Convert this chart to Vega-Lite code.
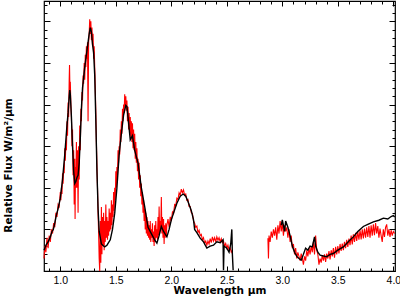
{
  "$schema": "https://vega.github.io/schema/vega-lite/v6.json",
  "width": 351,
  "height": 270,
  "autosize": "none",
  "padding": {"left": 44, "top": 1, "right": 5, "bottom": 27},
  "background": "white",
  "config": {
    "view": {"stroke": "black", "strokeWidth": 1.2},
    "axis": {"domain": false, "grid": false, "tickColor": "black", "labelColor": "black", "titleColor": "black", "labelFont": "Liberation Sans", "titleFont": "DejaVu Sans", "labelFontSize": 10.5, "titleFontSize": 10.5, "titleFontWeight": "bold", "tickWidth": 1}
  },
  "datasets": {
    "red": [
      {"x": 0.853, "y": 0.30, "seg": "r1"},
      {"x": 0.86, "y": 0.60, "seg": "r1"},
      {"x": 0.87, "y": 0.45, "seg": "r1"},
      {"x": 0.88, "y": 0.80, "seg": "r1"},
      {"x": 0.89, "y": 0.55, "seg": "r1"},
      {"x": 0.90, "y": 0.85, "seg": "r1"},
      {"x": 0.91, "y": 0.70, "seg": "r1"},
      {"x": 0.92, "y": 1.00, "seg": "r1"},
      {"x": 0.93, "y": 0.90, "seg": "r1"},
      {"x": 0.94, "y": 1.15, "seg": "r1"},
      {"x": 0.95, "y": 1.05, "seg": "r1"},
      {"x": 0.96, "y": 1.40, "seg": "r1"},
      {"x": 0.97, "y": 1.30, "seg": "r1"},
      {"x": 0.98, "y": 1.60, "seg": "r1"},
      {"x": 0.99, "y": 1.55, "seg": "r1"},
      {"x": 1.000, "y": 1.90, "seg": "r1"},
      {"x": 1.005, "y": 1.70, "seg": "r1"},
      {"x": 1.010, "y": 2.00, "seg": "r1"},
      {"x": 1.015, "y": 1.85, "seg": "r1"},
      {"x": 1.020, "y": 2.35, "seg": "r1"},
      {"x": 1.025, "y": 2.10, "seg": "r1"},
      {"x": 1.030, "y": 2.50, "seg": "r1"},
      {"x": 1.035, "y": 2.35, "seg": "r1"},
      {"x": 1.040, "y": 2.95, "seg": "r1"},
      {"x": 1.045, "y": 2.65, "seg": "r1"},
      {"x": 1.050, "y": 3.10, "seg": "r1"},
      {"x": 1.055, "y": 2.90, "seg": "r1"},
      {"x": 1.060, "y": 3.60, "seg": "r1"},
      {"x": 1.065, "y": 3.25, "seg": "r1"},
      {"x": 1.070, "y": 4.05, "seg": "r1"},
      {"x": 1.075, "y": 3.70, "seg": "r1"},
      {"x": 1.080, "y": 4.60, "seg": "r1"},
      {"x": 1.083, "y": 4.95, "seg": "r1"},
      {"x": 1.087, "y": 4.30, "seg": "r1"},
      {"x": 1.090, "y": 4.55, "seg": "r1"},
      {"x": 1.095, "y": 4.00, "seg": "r1"},
      {"x": 1.100, "y": 3.70, "seg": "r1"},
      {"x": 1.105, "y": 3.00, "seg": "r1"},
      {"x": 1.110, "y": 3.40, "seg": "r1"},
      {"x": 1.115, "y": 2.30, "seg": "r1"},
      {"x": 1.120, "y": 2.90, "seg": "r1"},
      {"x": 1.125, "y": 1.60, "seg": "r1"},
      {"x": 1.130, "y": 2.70, "seg": "r1"},
      {"x": 1.133, "y": 1.25, "seg": "r1"},
      {"x": 1.137, "y": 2.50, "seg": "r1"},
      {"x": 1.140, "y": 2.00, "seg": "r1"},
      {"x": 1.145, "y": 3.10, "seg": "r1"},
      {"x": 1.150, "y": 2.00, "seg": "r1"},
      {"x": 1.155, "y": 2.90, "seg": "r1"},
      {"x": 1.160, "y": 1.40, "seg": "r1"},
      {"x": 1.165, "y": 3.00, "seg": "r1"},
      {"x": 1.170, "y": 2.20, "seg": "r1"},
      {"x": 1.175, "y": 3.50, "seg": "r1"},
      {"x": 1.180, "y": 2.90, "seg": "r1"},
      {"x": 1.185, "y": 3.90, "seg": "r1"},
      {"x": 1.190, "y": 3.60, "seg": "r1"},
      {"x": 1.195, "y": 4.30, "seg": "r1"},
      {"x": 1.200, "y": 4.10, "seg": "r1"},
      {"x": 1.205, "y": 4.70, "seg": "r1"},
      {"x": 1.210, "y": 4.50, "seg": "r1"},
      {"x": 1.215, "y": 5.00, "seg": "r1"},
      {"x": 1.220, "y": 4.60, "seg": "r1"},
      {"x": 1.225, "y": 5.20, "seg": "r1"},
      {"x": 1.230, "y": 4.90, "seg": "r1"},
      {"x": 1.235, "y": 5.40, "seg": "r1"},
      {"x": 1.240, "y": 5.10, "seg": "r1"},
      {"x": 1.245, "y": 5.50, "seg": "r1"},
      {"x": 1.250, "y": 3.60, "seg": "r1"},
      {"x": 1.255, "y": 5.50, "seg": "r1"},
      {"x": 1.260, "y": 5.70, "seg": "r1"},
      {"x": 1.265, "y": 6.05, "seg": "r1"},
      {"x": 1.270, "y": 5.70, "seg": "r1"},
      {"x": 1.275, "y": 6.00, "seg": "r1"},
      {"x": 1.280, "y": 5.55, "seg": "r1"},
      {"x": 1.285, "y": 5.85, "seg": "r1"},
      {"x": 1.290, "y": 5.40, "seg": "r1"},
      {"x": 1.295, "y": 5.70, "seg": "r1"},
      {"x": 1.300, "y": 5.10, "seg": "r1"},
      {"x": 1.305, "y": 5.40, "seg": "r1"},
      {"x": 1.310, "y": 4.90, "seg": "r1"},
      {"x": 1.315, "y": 4.40, "seg": "r1"},
      {"x": 1.320, "y": 3.80, "seg": "r1"},
      {"x": 1.325, "y": 3.10, "seg": "r1"},
      {"x": 1.330, "y": 2.50, "seg": "r1"},
      {"x": 1.335, "y": 2.00, "seg": "r1"},
      {"x": 1.340, "y": 1.40, "seg": "r1"},
      {"x": 1.345, "y": 0.90, "seg": "r1"},
      {"x": 1.350, "y": 0.30, "seg": "r1"},
      {"x": 1.355, "y": 0.00, "seg": "r1"},
      {"x": 1.36, "y": 1.20, "seg": "r1"},
      {"x": 1.365, "y": 0.20, "seg": "r1"},
      {"x": 1.37, "y": 1.54, "seg": "r1"},
      {"x": 1.375, "y": 0.40, "seg": "r1"},
      {"x": 1.38, "y": 1.30, "seg": "r1"},
      {"x": 1.385, "y": 0.60, "seg": "r1"},
      {"x": 1.39, "y": 1.40, "seg": "r1"},
      {"x": 1.395, "y": 0.50, "seg": "r1"},
      {"x": 1.40, "y": 1.20, "seg": "r1"},
      {"x": 1.405, "y": 0.70, "seg": "r1"},
      {"x": 1.41, "y": 1.60, "seg": "r1"},
      {"x": 1.415, "y": 0.80, "seg": "r1"},
      {"x": 1.42, "y": 1.30, "seg": "r1"},
      {"x": 1.425, "y": 0.75, "seg": "r1"},
      {"x": 1.43, "y": 1.20, "seg": "r1"},
      {"x": 1.435, "y": 0.85, "seg": "r1"},
      {"x": 1.44, "y": 1.50, "seg": "r1"},
      {"x": 1.445, "y": 0.95, "seg": "r1"},
      {"x": 1.45, "y": 1.40, "seg": "r1"},
      {"x": 1.455, "y": 1.00, "seg": "r1"},
      {"x": 1.46, "y": 1.70, "seg": "r1"},
      {"x": 1.465, "y": 1.10, "seg": "r1"},
      {"x": 1.47, "y": 1.60, "seg": "r1"},
      {"x": 1.475, "y": 1.30, "seg": "r1"},
      {"x": 1.48, "y": 1.90, "seg": "r1"},
      {"x": 1.485, "y": 1.45, "seg": "r1"},
      {"x": 1.49, "y": 2.00, "seg": "r1"},
      {"x": 1.495, "y": 1.70, "seg": "r1"},
      {"x": 1.500, "y": 2.40, "seg": "r1"},
      {"x": 1.505, "y": 2.00, "seg": "r1"},
      {"x": 1.510, "y": 2.50, "seg": "r1"},
      {"x": 1.515, "y": 2.30, "seg": "r1"},
      {"x": 1.520, "y": 2.90, "seg": "r1"},
      {"x": 1.525, "y": 2.60, "seg": "r1"},
      {"x": 1.530, "y": 3.00, "seg": "r1"},
      {"x": 1.535, "y": 2.80, "seg": "r1"},
      {"x": 1.540, "y": 3.40, "seg": "r1"},
      {"x": 1.545, "y": 3.10, "seg": "r1"},
      {"x": 1.550, "y": 3.60, "seg": "r1"},
      {"x": 1.555, "y": 3.30, "seg": "r1"},
      {"x": 1.560, "y": 3.90, "seg": "r1"},
      {"x": 1.565, "y": 3.60, "seg": "r1"},
      {"x": 1.570, "y": 4.00, "seg": "r1"},
      {"x": 1.575, "y": 3.80, "seg": "r1"},
      {"x": 1.580, "y": 4.25, "seg": "r1"},
      {"x": 1.585, "y": 3.95, "seg": "r1"},
      {"x": 1.590, "y": 4.20, "seg": "r1"},
      {"x": 1.595, "y": 3.85, "seg": "r1"},
      {"x": 1.600, "y": 4.10, "seg": "r1"},
      {"x": 1.605, "y": 3.60, "seg": "r1"},
      {"x": 1.610, "y": 3.95, "seg": "r1"},
      {"x": 1.615, "y": 3.40, "seg": "r1"},
      {"x": 1.620, "y": 3.80, "seg": "r1"},
      {"x": 1.625, "y": 3.30, "seg": "r1"},
      {"x": 1.630, "y": 3.70, "seg": "r1"},
      {"x": 1.635, "y": 3.20, "seg": "r1"},
      {"x": 1.640, "y": 3.60, "seg": "r1"},
      {"x": 1.645, "y": 3.10, "seg": "r1"},
      {"x": 1.650, "y": 3.55, "seg": "r1"},
      {"x": 1.655, "y": 2.95, "seg": "r1"},
      {"x": 1.660, "y": 3.40, "seg": "r1"},
      {"x": 1.665, "y": 2.90, "seg": "r1"},
      {"x": 1.670, "y": 3.30, "seg": "r1"},
      {"x": 1.675, "y": 2.70, "seg": "r1"},
      {"x": 1.680, "y": 3.10, "seg": "r1"},
      {"x": 1.685, "y": 2.60, "seg": "r1"},
      {"x": 1.690, "y": 2.95, "seg": "r1"},
      {"x": 1.695, "y": 2.40, "seg": "r1"},
      {"x": 1.700, "y": 2.70, "seg": "r1"},
      {"x": 1.705, "y": 2.20, "seg": "r1"},
      {"x": 1.710, "y": 2.60, "seg": "r1"},
      {"x": 1.715, "y": 2.00, "seg": "r1"},
      {"x": 1.720, "y": 2.30, "seg": "r1"},
      {"x": 1.725, "y": 1.80, "seg": "r1"},
      {"x": 1.730, "y": 2.10, "seg": "r1"},
      {"x": 1.735, "y": 1.60, "seg": "r1"},
      {"x": 1.740, "y": 1.90, "seg": "r1"},
      {"x": 1.745, "y": 1.40, "seg": "r1"},
      {"x": 1.750, "y": 1.70, "seg": "r1"},
      {"x": 1.755, "y": 1.20, "seg": "r1"},
      {"x": 1.760, "y": 1.50, "seg": "r1"},
      {"x": 1.765, "y": 1.00, "seg": "r1"},
      {"x": 1.770, "y": 1.40, "seg": "r1"},
      {"x": 1.775, "y": 0.90, "seg": "r1"},
      {"x": 1.780, "y": 1.30, "seg": "r1"},
      {"x": 1.785, "y": 0.85, "seg": "r1"},
      {"x": 1.790, "y": 1.20, "seg": "r1"},
      {"x": 1.795, "y": 0.80, "seg": "r1"},
      {"x": 1.800, "y": 1.10, "seg": "r1"},
      {"x": 1.805, "y": 0.75, "seg": "r1"},
      {"x": 1.810, "y": 1.20, "seg": "r1"},
      {"x": 1.815, "y": 0.70, "seg": "r1"},
      {"x": 1.820, "y": 1.00, "seg": "r1"},
      {"x": 1.825, "y": 0.80, "seg": "r1"},
      {"x": 1.830, "y": 1.15, "seg": "r1"},
      {"x": 1.835, "y": 0.70, "seg": "r1"},
      {"x": 1.840, "y": 0.95, "seg": "r1"},
      {"x": 1.845, "y": 0.60, "seg": "r1"},
      {"x": 1.850, "y": 1.10, "seg": "r1"},
      {"x": 1.855, "y": 0.70, "seg": "r1"},
      {"x": 1.860, "y": 1.20, "seg": "r1"},
      {"x": 1.865, "y": 0.80, "seg": "r1"},
      {"x": 1.870, "y": 1.00, "seg": "r1"},
      {"x": 1.875, "y": 0.75, "seg": "r1"},
      {"x": 1.880, "y": 1.30, "seg": "r1"},
      {"x": 1.885, "y": 0.85, "seg": "r1"},
      {"x": 1.890, "y": 1.55, "seg": "r1"},
      {"x": 1.895, "y": 0.90, "seg": "r1"},
      {"x": 1.900, "y": 1.20, "seg": "r1"},
      {"x": 1.905, "y": 1.00, "seg": "r1"},
      {"x": 1.910, "y": 1.78, "seg": "r1"},
      {"x": 1.915, "y": 0.90, "seg": "r1"},
      {"x": 1.920, "y": 1.30, "seg": "r1"},
      {"x": 1.925, "y": 0.80, "seg": "r1"},
      {"x": 1.930, "y": 1.25, "seg": "r1"},
      {"x": 1.935, "y": 0.65, "seg": "r1"},
      {"x": 1.940, "y": 1.10, "seg": "r1"},
      {"x": 1.945, "y": 0.80, "seg": "r1"},
      {"x": 1.950, "y": 1.15, "seg": "r1"},
      {"x": 1.955, "y": 0.85, "seg": "r1"},
      {"x": 1.960, "y": 1.10, "seg": "r1"},
      {"x": 1.970, "y": 1.25, "seg": "r1"},
      {"x": 1.980, "y": 1.05, "seg": "r1"},
      {"x": 1.990, "y": 1.30, "seg": "r1"},
      {"x": 2.00, "y": 1.20, "seg": "r1"},
      {"x": 2.01, "y": 1.42, "seg": "r1"},
      {"x": 2.02, "y": 1.38, "seg": "r1"},
      {"x": 2.03, "y": 1.60, "seg": "r1"},
      {"x": 2.04, "y": 1.58, "seg": "r1"},
      {"x": 2.05, "y": 1.75, "seg": "r1"},
      {"x": 2.06, "y": 1.72, "seg": "r1"},
      {"x": 2.07, "y": 1.88, "seg": "r1"},
      {"x": 2.08, "y": 1.82, "seg": "r1"},
      {"x": 2.09, "y": 1.97, "seg": "r1"},
      {"x": 2.10, "y": 1.88, "seg": "r1"},
      {"x": 2.11, "y": 1.95, "seg": "r1"},
      {"x": 2.12, "y": 1.82, "seg": "r1"},
      {"x": 2.13, "y": 1.85, "seg": "r1"},
      {"x": 2.14, "y": 1.70, "seg": "r1"},
      {"x": 2.15, "y": 1.72, "seg": "r1"},
      {"x": 2.16, "y": 1.55, "seg": "r1"},
      {"x": 2.17, "y": 1.55, "seg": "r1"},
      {"x": 2.18, "y": 1.40, "seg": "r1"},
      {"x": 2.19, "y": 1.38, "seg": "r1"},
      {"x": 2.20, "y": 1.20, "seg": "r1"},
      {"x": 2.21, "y": 1.15, "seg": "r1"},
      {"x": 2.22, "y": 1.05, "seg": "r1"},
      {"x": 2.23, "y": 1.08, "seg": "r1"},
      {"x": 2.24, "y": 0.92, "seg": "r1"},
      {"x": 2.25, "y": 0.98, "seg": "r1"},
      {"x": 2.26, "y": 0.85, "seg": "r1"},
      {"x": 2.27, "y": 0.88, "seg": "r1"},
      {"x": 2.28, "y": 0.75, "seg": "r1"},
      {"x": 2.29, "y": 0.80, "seg": "r1"},
      {"x": 2.30, "y": 0.66, "seg": "r1"},
      {"x": 2.31, "y": 0.72, "seg": "r1"},
      {"x": 2.32, "y": 0.62, "seg": "r1"},
      {"x": 2.33, "y": 0.72, "seg": "r1"},
      {"x": 2.34, "y": 0.65, "seg": "r1"},
      {"x": 2.35, "y": 0.78, "seg": "r1"},
      {"x": 2.36, "y": 0.68, "seg": "r1"},
      {"x": 2.37, "y": 0.82, "seg": "r1"},
      {"x": 2.38, "y": 0.72, "seg": "r1"},
      {"x": 2.39, "y": 0.80, "seg": "r1"},
      {"x": 2.40, "y": 0.70, "seg": "r1"},
      {"x": 2.41, "y": 0.82, "seg": "r1"},
      {"x": 2.42, "y": 0.74, "seg": "r1"},
      {"x": 2.43, "y": 0.80, "seg": "r1"},
      {"x": 2.44, "y": 0.70, "seg": "r1"},
      {"x": 2.45, "y": 0.78, "seg": "r1"},
      {"x": 2.46, "y": 0.68, "seg": "r1"},
      {"x": 2.47, "y": 0.72, "seg": "r1"},
      {"x": 2.48, "y": 0.60, "seg": "r1"},
      {"x": 2.49, "y": 0.66, "seg": "r1"},
      {"x": 2.50, "y": 0.55, "seg": "r1"},
      {"x": 2.51, "y": 0.62, "seg": "r1"},
      {"x": 2.52, "y": 0.50, "seg": "r1"},
      {"x": 2.53, "y": 0.56, "seg": "r1"},
      {"x": 2.54, "y": 0.45, "seg": "r1"},
      {"x": 2.55, "y": 0.50, "seg": "r1"},
      {"x": 2.87, "y": 0.79, "seg": "r2"},
      {"x": 2.875, "y": 0.30, "seg": "r2"},
      {"x": 2.88, "y": 0.85, "seg": "r2"},
      {"x": 2.89, "y": 0.70, "seg": "r2"},
      {"x": 2.90, "y": 0.95, "seg": "r2"},
      {"x": 2.91, "y": 0.80, "seg": "r2"},
      {"x": 2.92, "y": 1.00, "seg": "r2"},
      {"x": 2.93, "y": 0.85, "seg": "r2"},
      {"x": 2.94, "y": 1.05, "seg": "r2"},
      {"x": 2.95, "y": 0.75, "seg": "r2"},
      {"x": 2.96, "y": 1.10, "seg": "r2"},
      {"x": 2.97, "y": 0.90, "seg": "r2"},
      {"x": 2.98, "y": 1.20, "seg": "r2"},
      {"x": 2.99, "y": 0.95, "seg": "r2"},
      {"x": 3.00, "y": 1.15, "seg": "r2"},
      {"x": 3.01, "y": 0.85, "seg": "r2"},
      {"x": 3.02, "y": 1.10, "seg": "r2"},
      {"x": 3.03, "y": 0.95, "seg": "r2"},
      {"x": 3.04, "y": 1.05, "seg": "r2"},
      {"x": 3.05, "y": 0.80, "seg": "r2"},
      {"x": 3.06, "y": 1.00, "seg": "r2"},
      {"x": 3.07, "y": 0.70, "seg": "r2"},
      {"x": 3.08, "y": 0.85, "seg": "r2"},
      {"x": 3.09, "y": 0.55, "seg": "r2"},
      {"x": 3.10, "y": 0.65, "seg": "r2"},
      {"x": 3.11, "y": 0.40, "seg": "r2"},
      {"x": 3.12, "y": 0.55, "seg": "r2"},
      {"x": 3.13, "y": 0.30, "seg": "r2"},
      {"x": 3.14, "y": 0.45, "seg": "r2"},
      {"x": 3.15, "y": 0.35, "seg": "r2"},
      {"x": 3.16, "y": 0.25, "seg": "r2"},
      {"x": 3.17, "y": 0.42, "seg": "r2"},
      {"x": 3.18, "y": 0.30, "seg": "r2"},
      {"x": 3.19, "y": 0.15, "seg": "r2"},
      {"x": 3.20, "y": 0.35, "seg": "r2"},
      {"x": 3.21, "y": 0.25, "seg": "r2"},
      {"x": 3.22, "y": 0.50, "seg": "r2"},
      {"x": 3.23, "y": 0.35, "seg": "r2"},
      {"x": 3.24, "y": 0.55, "seg": "r2"},
      {"x": 3.25, "y": 0.40, "seg": "r2"},
      {"x": 3.26, "y": 0.60, "seg": "r2"},
      {"x": 3.27, "y": 0.45, "seg": "r2"},
      {"x": 3.28, "y": 0.70, "seg": "r2"},
      {"x": 3.29, "y": 0.40, "seg": "r2"},
      {"x": 3.30, "y": 0.85, "seg": "r2"},
      {"x": 3.31, "y": 0.50, "seg": "r2"},
      {"x": 3.32, "y": 0.40, "seg": "r2"},
      {"x": 3.33, "y": 0.15, "seg": "r2"},
      {"x": 3.34, "y": 0.30, "seg": "r2"},
      {"x": 3.35, "y": 0.20, "seg": "r2"},
      {"x": 3.36, "y": 0.38, "seg": "r2"},
      {"x": 3.37, "y": 0.25, "seg": "r2"},
      {"x": 3.38, "y": 0.40, "seg": "r2"},
      {"x": 3.39, "y": 0.22, "seg": "r2"},
      {"x": 3.40, "y": 0.42, "seg": "r2"},
      {"x": 3.41, "y": 0.30, "seg": "r2"},
      {"x": 3.42, "y": 0.48, "seg": "r2"},
      {"x": 3.43, "y": 0.28, "seg": "r2"},
      {"x": 3.44, "y": 0.50, "seg": "r2"},
      {"x": 3.45, "y": 0.35, "seg": "r2"},
      {"x": 3.46, "y": 0.55, "seg": "r2"},
      {"x": 3.47, "y": 0.32, "seg": "r2"},
      {"x": 3.48, "y": 0.58, "seg": "r2"},
      {"x": 3.49, "y": 0.40, "seg": "r2"},
      {"x": 3.50, "y": 0.60, "seg": "r2"},
      {"x": 3.51, "y": 0.42, "seg": "r2"},
      {"x": 3.52, "y": 0.65, "seg": "r2"},
      {"x": 3.53, "y": 0.48, "seg": "r2"},
      {"x": 3.54, "y": 0.66, "seg": "r2"},
      {"x": 3.55, "y": 0.50, "seg": "r2"},
      {"x": 3.56, "y": 0.70, "seg": "r2"},
      {"x": 3.57, "y": 0.55, "seg": "r2"},
      {"x": 3.58, "y": 0.75, "seg": "r2"},
      {"x": 3.59, "y": 0.58, "seg": "r2"},
      {"x": 3.60, "y": 0.78, "seg": "r2"},
      {"x": 3.61, "y": 0.62, "seg": "r2"},
      {"x": 3.62, "y": 0.85, "seg": "r2"},
      {"x": 3.63, "y": 0.64, "seg": "r2"},
      {"x": 3.64, "y": 0.88, "seg": "r2"},
      {"x": 3.65, "y": 0.70, "seg": "r2"},
      {"x": 3.66, "y": 0.92, "seg": "r2"},
      {"x": 3.67, "y": 0.72, "seg": "r2"},
      {"x": 3.68, "y": 0.95, "seg": "r2"},
      {"x": 3.69, "y": 0.75, "seg": "r2"},
      {"x": 3.70, "y": 0.98, "seg": "r2"},
      {"x": 3.71, "y": 0.76, "seg": "r2"},
      {"x": 3.72, "y": 1.00, "seg": "r2"},
      {"x": 3.73, "y": 0.78, "seg": "r2"},
      {"x": 3.74, "y": 1.02, "seg": "r2"},
      {"x": 3.75, "y": 0.80, "seg": "r2"},
      {"x": 3.76, "y": 1.05, "seg": "r2"},
      {"x": 3.77, "y": 0.82, "seg": "r2"},
      {"x": 3.78, "y": 1.08, "seg": "r2"},
      {"x": 3.79, "y": 0.80, "seg": "r2"},
      {"x": 3.80, "y": 1.10, "seg": "r2"},
      {"x": 3.81, "y": 0.85, "seg": "r2"},
      {"x": 3.82, "y": 1.12, "seg": "r2"},
      {"x": 3.83, "y": 0.86, "seg": "r2"},
      {"x": 3.84, "y": 1.15, "seg": "r2"},
      {"x": 3.85, "y": 0.90, "seg": "r2"},
      {"x": 3.86, "y": 1.08, "seg": "r2"},
      {"x": 3.87, "y": 0.80, "seg": "r2"},
      {"x": 3.88, "y": 1.02, "seg": "r2"},
      {"x": 3.89, "y": 0.85, "seg": "r2"},
      {"x": 3.90, "y": 0.70, "seg": "r2"},
      {"x": 3.91, "y": 1.00, "seg": "r2"},
      {"x": 3.92, "y": 0.82, "seg": "r2"},
      {"x": 3.93, "y": 1.05, "seg": "r2"},
      {"x": 3.94, "y": 1.12, "seg": "r2"},
      {"x": 3.95, "y": 0.85, "seg": "r2"},
      {"x": 3.96, "y": 1.00, "seg": "r2"},
      {"x": 3.97, "y": 0.82, "seg": "r2"},
      {"x": 3.98, "y": 0.98, "seg": "r2"},
      {"x": 3.99, "y": 0.85, "seg": "r2"},
      {"x": 4.00, "y": 0.95, "seg": "r2"},
      {"x": 4.012, "y": 0.90, "seg": "r2"}
    ],
    "black": [
      {"x": 0.853, "y": 0.50, "seg": "b1"},
      {"x": 0.87, "y": 0.62, "seg": "b1"},
      {"x": 0.89, "y": 0.70, "seg": "b1"},
      {"x": 0.91, "y": 0.82, "seg": "b1"},
      {"x": 0.925, "y": 0.95, "seg": "b1"},
      {"x": 0.937, "y": 1.00, "seg": "b1"},
      {"x": 0.95, "y": 1.15, "seg": "b1"},
      {"x": 0.965, "y": 1.35, "seg": "b1"},
      {"x": 0.98, "y": 1.50, "seg": "b1"},
      {"x": 1.00, "y": 1.75, "seg": "b1"},
      {"x": 1.02, "y": 2.20, "seg": "b1"},
      {"x": 1.04, "y": 2.80, "seg": "b1"},
      {"x": 1.06, "y": 3.50, "seg": "b1"},
      {"x": 1.07, "y": 3.80, "seg": "b1"},
      {"x": 1.08, "y": 4.20, "seg": "b1"},
      {"x": 1.085, "y": 4.35, "seg": "b1"},
      {"x": 1.09, "y": 4.25, "seg": "b1"},
      {"x": 1.10, "y": 3.70, "seg": "b1"},
      {"x": 1.11, "y": 3.00, "seg": "b1"},
      {"x": 1.12, "y": 2.40, "seg": "b1"},
      {"x": 1.13, "y": 2.10, "seg": "b1"},
      {"x": 1.14, "y": 2.15, "seg": "b1"},
      {"x": 1.15, "y": 2.25, "seg": "b1"},
      {"x": 1.16, "y": 2.30, "seg": "b1"},
      {"x": 1.17, "y": 2.60, "seg": "b1"},
      {"x": 1.18, "y": 3.20, "seg": "b1"},
      {"x": 1.19, "y": 3.90, "seg": "b1"},
      {"x": 1.20, "y": 4.40, "seg": "b1"},
      {"x": 1.22, "y": 4.90, "seg": "b1"},
      {"x": 1.24, "y": 5.30, "seg": "b1"},
      {"x": 1.26, "y": 5.70, "seg": "b1"},
      {"x": 1.27, "y": 5.85, "seg": "b1"},
      {"x": 1.28, "y": 5.75, "seg": "b1"},
      {"x": 1.29, "y": 5.45, "seg": "b1"},
      {"x": 1.30, "y": 5.25, "seg": "b1"},
      {"x": 1.31, "y": 4.70, "seg": "b1"},
      {"x": 1.32, "y": 3.60, "seg": "b1"},
      {"x": 1.33, "y": 2.40, "seg": "b1"},
      {"x": 1.34, "y": 1.50, "seg": "b1"},
      {"x": 1.35, "y": 0.95, "seg": "b1"},
      {"x": 1.37, "y": 0.65, "seg": "b1"},
      {"x": 1.39, "y": 0.60, "seg": "b1"},
      {"x": 1.40, "y": 0.58, "seg": "b1"},
      {"x": 1.42, "y": 0.62, "seg": "b1"},
      {"x": 1.45, "y": 0.75, "seg": "b1"},
      {"x": 1.47, "y": 1.00, "seg": "b1"},
      {"x": 1.49, "y": 1.39, "seg": "b1"},
      {"x": 1.51, "y": 2.00, "seg": "b1"},
      {"x": 1.53, "y": 2.80, "seg": "b1"},
      {"x": 1.55, "y": 3.30, "seg": "b1"},
      {"x": 1.57, "y": 3.75, "seg": "b1"},
      {"x": 1.59, "y": 3.98, "seg": "b1"},
      {"x": 1.60, "y": 3.95, "seg": "b1"},
      {"x": 1.61, "y": 3.70, "seg": "b1"},
      {"x": 1.63, "y": 3.15, "seg": "b1"},
      {"x": 1.65, "y": 3.25, "seg": "b1"},
      {"x": 1.67, "y": 2.90, "seg": "b1"},
      {"x": 1.70, "y": 2.60, "seg": "b1"},
      {"x": 1.73, "y": 2.00, "seg": "b1"},
      {"x": 1.76, "y": 1.55, "seg": "b1"},
      {"x": 1.79, "y": 1.05, "seg": "b1"},
      {"x": 1.82, "y": 0.90, "seg": "b1"},
      {"x": 1.85, "y": 0.75, "seg": "b1"},
      {"x": 1.87, "y": 0.67, "seg": "b1"},
      {"x": 1.89, "y": 0.85, "seg": "b1"},
      {"x": 1.91, "y": 1.07, "seg": "b1"},
      {"x": 1.93, "y": 0.95, "seg": "b1"},
      {"x": 1.96, "y": 0.82, "seg": "b1"},
      {"x": 1.98, "y": 1.00, "seg": "b1"},
      {"x": 2.00, "y": 1.23, "seg": "b1"},
      {"x": 2.03, "y": 1.47, "seg": "b1"},
      {"x": 2.05, "y": 1.63, "seg": "b1"},
      {"x": 2.08, "y": 1.80, "seg": "b1"},
      {"x": 2.107, "y": 1.85, "seg": "b1"},
      {"x": 2.13, "y": 1.80, "seg": "b1"},
      {"x": 2.15, "y": 1.67, "seg": "b1"},
      {"x": 2.18, "y": 1.45, "seg": "b1"},
      {"x": 2.20, "y": 1.23, "seg": "b1"},
      {"x": 2.21, "y": 1.00, "seg": "b1"},
      {"x": 2.23, "y": 0.92, "seg": "b1"},
      {"x": 2.26, "y": 0.79, "seg": "b1"},
      {"x": 2.29, "y": 0.70, "seg": "b1"},
      {"x": 2.32, "y": 0.55, "seg": "b1"},
      {"x": 2.35, "y": 0.60, "seg": "b1"},
      {"x": 2.38, "y": 0.62, "seg": "b1"},
      {"x": 2.41, "y": 0.70, "seg": "b1"},
      {"x": 2.44, "y": 0.68, "seg": "b1"},
      {"x": 2.466, "y": 0.75, "seg": "b1"},
      {"x": 2.47, "y": 0.02, "seg": "b1"},
      {"x": 2.475, "y": 0.60, "seg": "b1"},
      {"x": 2.50, "y": 0.55, "seg": "b1"},
      {"x": 2.52, "y": 0.45, "seg": "b1"},
      {"x": 2.535, "y": 0.65, "seg": "b1"},
      {"x": 2.545, "y": 1.00, "seg": "b1"},
      {"x": 2.55, "y": 0.40, "seg": "b1"},
      {"x": 2.557, "y": 0.02, "seg": "b1"},
      {"x": 2.99, "y": 1.10, "seg": "b2"},
      {"x": 3.00, "y": 1.23, "seg": "b2"},
      {"x": 3.02, "y": 0.95, "seg": "b2"},
      {"x": 3.03, "y": 1.20, "seg": "b2"},
      {"x": 3.05, "y": 1.05, "seg": "b2"},
      {"x": 3.07, "y": 0.85, "seg": "b2"},
      {"x": 3.09, "y": 0.60, "seg": "b2"},
      {"x": 3.11, "y": 0.45, "seg": "b2"},
      {"x": 3.13, "y": 0.35, "seg": "b2"},
      {"x": 3.15, "y": 0.30, "seg": "b2"},
      {"x": 3.17, "y": 0.26, "seg": "b2"},
      {"x": 3.19, "y": 0.40, "seg": "b2"},
      {"x": 3.21, "y": 0.55, "seg": "b2"},
      {"x": 3.23, "y": 0.50, "seg": "b2"},
      {"x": 3.25, "y": 0.60, "seg": "b2"},
      {"x": 3.27, "y": 0.58, "seg": "b2"},
      {"x": 3.29, "y": 0.82, "seg": "b2"},
      {"x": 3.30, "y": 0.60, "seg": "b2"},
      {"x": 3.32, "y": 0.45, "seg": "b2"},
      {"x": 3.34, "y": 0.38, "seg": "b2"},
      {"x": 3.37, "y": 0.36, "seg": "b2"},
      {"x": 3.40, "y": 0.34, "seg": "b2"},
      {"x": 3.43, "y": 0.40, "seg": "b2"},
      {"x": 3.46, "y": 0.42, "seg": "b2"},
      {"x": 3.50, "y": 0.50, "seg": "b2"},
      {"x": 3.55, "y": 0.58, "seg": "b2"},
      {"x": 3.60, "y": 0.72, "seg": "b2"},
      {"x": 3.64, "y": 0.82, "seg": "b2"},
      {"x": 3.68, "y": 0.95, "seg": "b2"},
      {"x": 3.73, "y": 1.07, "seg": "b2"},
      {"x": 3.77, "y": 1.12, "seg": "b2"},
      {"x": 3.82, "y": 1.18, "seg": "b2"},
      {"x": 3.87, "y": 1.22, "seg": "b2"},
      {"x": 3.91, "y": 1.27, "seg": "b2"},
      {"x": 3.95, "y": 1.25, "seg": "b2"},
      {"x": 3.98, "y": 1.31, "seg": "b2"},
      {"x": 4.00, "y": 1.33, "seg": "b2"},
      {"x": 4.012, "y": 1.30, "seg": "b2"}
    ]
  },
  "layer": [
    {
      "data": {"name": "red"},
      "mark": {"type": "line", "color": "#ff0000", "strokeWidth": 1.1, "interpolate": "linear"},
      "encoding": {
        "x": {"field": "x", "type": "quantitative", "scale": {"domain": [0.853, 4.015], "nice": false, "zero": false},
          "axis": {"orient": "bottom", "title": "Wavelength μm", "values": [1, 1.5, 2, 2.5, 3, 3.5, 4], "tickSize": -5, "labelPadding": 9, "titlePadding": 0, "labelFlush": false, "labelOverlap": false}},
        "y": {"field": "y", "type": "quantitative", "scale": {"domain": [0, 6.49], "nice": false, "zero": false},
          "axis": {"orient": "left", "title": "Relative Flux W/m²/μm", "values": [0, 1, 2, 3, 4, 5, 6], "tickSize": -6, "labels": false, "titleX": -36, "titleY": 164, "titleAngle": -90, "titleAlign": "center", "titleBaseline": "middle"}},
        "detail": {"field": "seg", "type": "nominal"}
      }
    },
    {
      "data": {"name": "black"},
      "mark": {"type": "line", "color": "#000000", "strokeWidth": 1.4, "interpolate": "linear"},
      "encoding": {
        "x": {"field": "x", "type": "quantitative", "scale": {"domain": [0.853, 4.015], "nice": false, "zero": false},
          "axis": {"orient": "top", "title": null, "labels": false, "values": [1, 1.5, 2, 2.5, 3, 3.5, 4], "tickSize": -5}},
        "y": {"field": "y", "type": "quantitative", "scale": {"domain": [0, 6.49], "nice": false, "zero": false},
          "axis": {"orient": "right", "title": null, "labels": false, "values": [0, 1, 2, 3, 4, 5, 6], "tickSize": -6}},
        "detail": {"field": "seg", "type": "nominal"}
      }
    },
    {
      "data": {"name": "black"},
      "mark": {"type": "point", "opacity": 0},
      "encoding": {
        "x": {"field": "x", "type": "quantitative", "scale": {"domain": [0.853, 4.015], "nice": false, "zero": false},
          "axis": {"orient": "bottom", "title": null, "labels": false, "values": [0.9, 1.1, 1.2, 1.3, 1.4, 1.6, 1.7, 1.8, 1.9, 2.1, 2.2, 2.3, 2.4, 2.6, 2.7, 2.8, 2.9, 3.1, 3.2, 3.3, 3.4, 3.6, 3.7, 3.8, 3.9], "tickSize": -3}},
        "y": {"field": "y", "type": "quantitative", "scale": {"domain": [0, 6.49], "nice": false, "zero": false},
          "axis": {"orient": "left", "title": null, "labels": false, "values": [0.2, 0.4, 0.6, 0.8, 1.2, 1.4, 1.6, 1.8, 2.2, 2.4, 2.6, 2.8, 3.2, 3.4, 3.6, 3.8, 4.2, 4.4, 4.6, 4.8, 5.2, 5.4, 5.6, 5.8, 6.2, 6.4], "tickSize": -3}}
      }
    },
    {
      "data": {"name": "black"},
      "mark": {"type": "point", "opacity": 0},
      "encoding": {
        "x": {"field": "x", "type": "quantitative", "scale": {"domain": [0.853, 4.015], "nice": false, "zero": false},
          "axis": {"orient": "top", "title": null, "labels": false, "values": [0.9, 1.1, 1.2, 1.3, 1.4, 1.6, 1.7, 1.8, 1.9, 2.1, 2.2, 2.3, 2.4, 2.6, 2.7, 2.8, 2.9, 3.1, 3.2, 3.3, 3.4, 3.6, 3.7, 3.8, 3.9], "tickSize": -3}},
        "y": {"field": "y", "type": "quantitative", "scale": {"domain": [0, 6.49], "nice": false, "zero": false},
          "axis": {"orient": "right", "title": null, "labels": false, "values": [0.2, 0.4, 0.6, 0.8, 1.2, 1.4, 1.6, 1.8, 2.2, 2.4, 2.6, 2.8, 3.2, 3.4, 3.6, 3.8, 4.2, 4.4, 4.6, 4.8, 5.2, 5.4, 5.6, 5.8, 6.2, 6.4], "tickSize": -3}}
      }
    }
  ],
  "resolve": {"axis": {"x": "independent", "y": "independent"}}
}
